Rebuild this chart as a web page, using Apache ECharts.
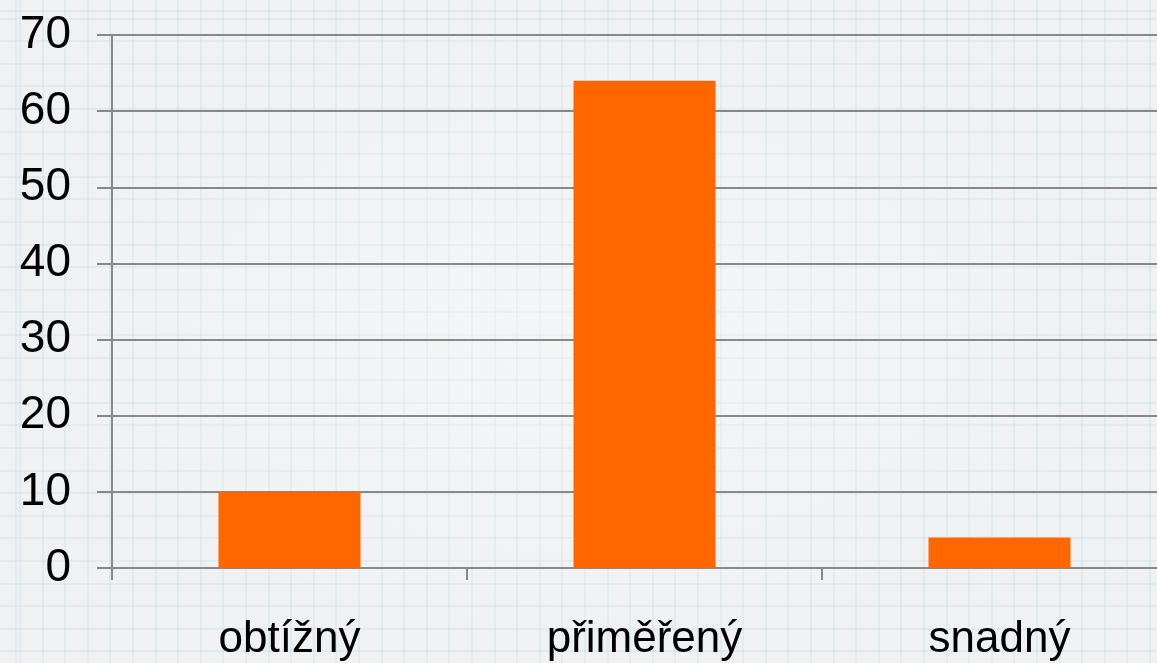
<!DOCTYPE html>
<html><head><meta charset="utf-8">
<script src="https://cdn.jsdelivr.net/npm/echarts@6/dist/echarts.min.js"></script>
<style>
html,body{margin:0;padding:0;}
body{
  width:1157px;height:663px;overflow:hidden;
  background-color:#eff1f2;
  background-image:
    radial-gradient(ellipse at 50% 50%, rgba(255,255,255,0.35), rgba(255,255,255,0) 70%),
    repeating-linear-gradient(90deg, rgba(150,195,205,0.15) 0px, rgba(150,195,205,0.15) 2px, transparent 2px, transparent 22.6px),
    repeating-linear-gradient(0deg, rgba(150,195,205,0.15) 0px, rgba(150,195,205,0.15) 2px, transparent 2px, transparent 22.6px);
  background-position: 0 0, 19px 12px, 19px 12px;
}
#c{width:1177px;height:663px;}
</style></head>
<body><div id="c"></div>
<script>
const categories = ['obtížný', 'přiměřený', 'snadný'];
const values = [10, 64, 4];
const yTicks = [0, 10, 20, 30, 40, 50, 60, 70];

const chart = echarts.init(document.getElementById('c'), null, {renderer:'canvas'});
chart.setOption({
  backgroundColor: 'transparent',
  animation: false,
  grid: {left: 112, right: 0, top: 35, bottom: 95, containLabel: false},
  xAxis: {
    type: 'category',
    data: categories,
    boundaryGap: true,
    axisLine: {show: true, lineStyle: {color: '#888888', width: 2}},
    axisTick: {show: true, length: 12, lineStyle: {color: '#888888', width: 2}},
    axisLabel: {color: '#000', fontSize: 44, fontFamily: 'Liberation Sans, Arial, sans-serif', margin: 50}
  },
  yAxis: {
    type: 'value',
    min: yTicks[0], max: yTicks[yTicks.length - 1], interval: 10,
    axisLine: {show: true, lineStyle: {color: '#888888', width: 2}},
    axisTick: {show: true, inside: false, length: 15, lineStyle: {color: '#888888', width: 2}},
    splitLine: {show: true, lineStyle: {color: '#888888', width: 2}},
    axisLabel: {color: '#000', fontSize: 46, fontFamily: 'Liberation Sans, Arial, sans-serif', margin: 41}
  },
  series: [{
    type: 'bar',
    data: values,
    barWidth: '40%',
    itemStyle: {color: '#ff6600'}
  }]
});
</script>
</body></html>
